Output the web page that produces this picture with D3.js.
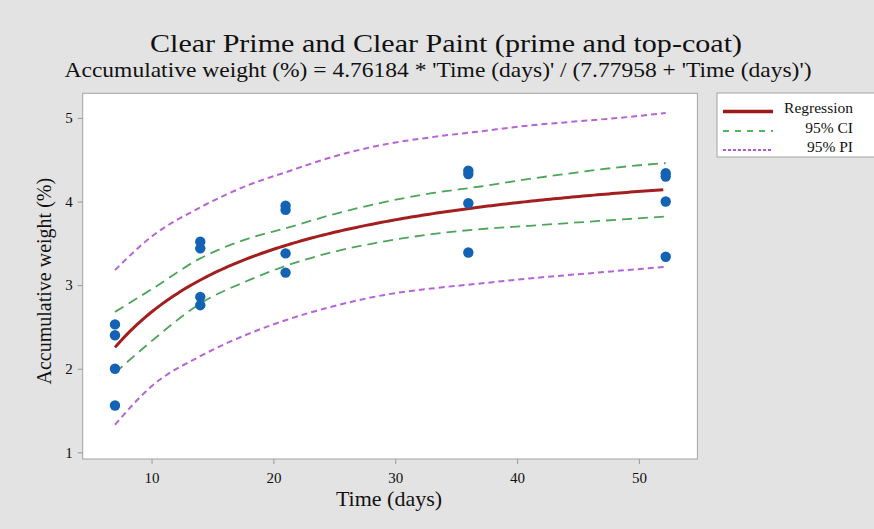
<!DOCTYPE html>
<html>
<head>
<meta charset="utf-8">
<script src="https://cdn.jsdelivr.net/npm/d3@7"></script>
<style>
  html, body { margin: 0; padding: 0; background: #e3e3e3; }
  svg { display: block; }
  text { font-family: "Liberation Serif", "DejaVu Serif", serif; fill: #111; }
</style>
</head>
<body>
<svg id="chart" width="874" height="529"></svg>
<script>
// Observed accumulative weight (%) per exposure time (days)
const obsTime   = [7, 7, 7, 7, 14, 14, 14, 14, 21, 21, 21, 21, 36, 36, 36, 36, 52.2, 52.2, 52.2, 52.2];
const obsWeight = [2.53, 2.40, 2.00, 1.56, 3.52, 3.44, 2.86, 2.76, 3.95, 3.90, 3.38, 3.15, 4.37, 4.33, 3.98, 3.39, 4.34, 4.30, 4.00, 3.34];

// Fitted model: weight = A * t / (B + t)
const coefA = 4.76184;
const coefB = 7.77958;

// Times at which the interval bands are evaluated
const bandTime = [7, 10, 14, 18, 21, 25, 29, 33, 37, 41, 45, 49, 52.2];
const ciUpper  = [2.68, 2.95, 3.32, 3.56, 3.68, 3.85, 3.99, 4.10, 4.18, 4.27, 4.35, 4.42, 4.46];
const ciLower  = [1.95, 2.33, 2.78, 3.06, 3.23, 3.40, 3.52, 3.61, 3.67, 3.71, 3.75, 3.79, 3.82];
const piUpper  = [3.18, 3.58, 3.93, 4.20, 4.35, 4.54, 4.68, 4.77, 4.84, 4.91, 4.96, 5.01, 5.06];
const piLower  = [1.33, 1.79, 2.15, 2.42, 2.58, 2.75, 2.88, 2.96, 3.02, 3.08, 3.13, 3.18, 3.22];

const xTicks = [10, 20, 30, 40, 50];
const yTicks = [1, 2, 3, 4, 5];

const titleText = "Clear Prime and Clear Paint (prime and top-coat)";
const subtitleText = "Accumulative weight (%) = 4.76184 * 'Time (days)' / (7.77958 + 'Time (days)')";
const xTitle = "Time (days)";
const yTitle = "Accumulative weight (%)";
const legendItems = [
  { label: "Regression", kind: "fit" },
  { label: "95% CI", kind: "ci" },
  { label: "95% PI", kind: "pi" }
];

const styles = {
  fit: { stroke: "#a31f1f", width: 3, dash: null },
  ci:  { stroke: "#4ea45a", width: 1.8, dash: "10,6" },
  pi:  { stroke: "#b664d6", width: 2, dash: "6,4" }
};
const legendStyles = {
  fit: { stroke: "#9c1a1a", width: 3.5, dash: null },
  ci:  { stroke: "#1a9a2a", width: 1.5, dash: "6,6" },
  pi:  { stroke: "#9c1fc8", width: 1.5, dash: "3,2" }
};

const svg = d3.select("#chart");
const plot = { left: 82.7, right: 697.4, top: 93.3, bottom: 459 };

const x = d3.scaleLinear().domain([4.35, 54.8]).range([plot.left, plot.right]);
const y = d3.scaleLinear().domain([0.92, 5.295]).range([plot.bottom, plot.top]);

// Titles
svg.append("text")
  .attr("x", 446).attr("y", 52)
  .attr("text-anchor", "middle")
  .attr("font-size", 26)
  .attr("textLength", 592).attr("lengthAdjust", "spacingAndGlyphs")
  .text(titleText);
svg.append("text")
  .attr("x", 438).attr("y", 77)
  .attr("text-anchor", "middle")
  .attr("font-size", 21)
  .attr("textLength", 747).attr("lengthAdjust", "spacingAndGlyphs")
  .text(subtitleText);

// Plot background
svg.append("rect")
  .attr("x", plot.left).attr("y", plot.top)
  .attr("width", plot.right - plot.left).attr("height", plot.bottom - plot.top)
  .attr("fill", "#ffffff").attr("stroke", "#a3a3a3").attr("stroke-width", 1);

// Axes
const xAxis = svg.append("g")
  .attr("transform", `translate(0,${plot.bottom})`)
  .call(d3.axisBottom(x).tickValues(xTicks).tickSize(5).tickPadding(8).tickFormat(d3.format("d")));
const yAxis = svg.append("g")
  .attr("transform", `translate(${plot.left},0)`)
  .call(d3.axisLeft(y).tickValues(yTicks).tickSize(5).tickPadding(5).tickFormat(d3.format("d")));
[xAxis, yAxis].forEach(g => {
  g.select(".domain").remove();
  g.selectAll(".tick line").attr("stroke", "#9a9a9a");
  g.selectAll(".tick text")
    .attr("font-family", "Liberation Serif, serif")
    .attr("font-size", 15).attr("fill", "#222");
});

svg.append("text")
  .attr("x", 389).attr("y", 506)
  .attr("text-anchor", "middle").attr("font-size", 22)
  .text(xTitle);
svg.append("text")
  .attr("transform", `translate(51,${(plot.top + plot.bottom) / 2 + 5}) rotate(-90)`)
  .attr("text-anchor", "middle").attr("font-size", 20)
  .text(yTitle);

// Bands and fitted curve
const bandLine = d3.line().curve(d3.curveMonotoneX);
const drawBand = (vals, st) => {
  svg.append("path")
    .attr("d", bandLine(bandTime.map((t, i) => [x(t), y(vals[i])])))
    .attr("fill", "none")
    .attr("stroke", st.stroke).attr("stroke-width", st.width)
    .attr("stroke-dasharray", st.dash);
};
drawBand(piUpper, styles.pi);
drawBand(piLower, styles.pi);
drawBand(ciUpper, styles.ci);
drawBand(ciLower, styles.ci);

const fitTimes = d3.range(7, 52.2 + 0.001, 0.3);
const fitLine = d3.line().curve(d3.curveLinear)
  .x(t => x(t)).y(t => y(coefA * t / (coefB + t)));
svg.append("path")
  .attr("d", fitLine(fitTimes))
  .attr("fill", "none")
  .attr("stroke", styles.fit.stroke).attr("stroke-width", styles.fit.width);

// Observations
svg.append("g").selectAll("circle")
  .data(obsTime.map((t, i) => ({ t, w: obsWeight[i] })))
  .join("circle")
  .attr("cx", d => x(d.t)).attr("cy", d => y(d.w))
  .attr("r", 5.2)
  .attr("fill", "#1462b4");

// Legend
const legend = svg.append("g");
legend.append("rect")
  .attr("x", 717).attr("y", 93).attr("width", 160).attr("height", 64)
  .attr("fill", "#ffffff").attr("stroke", "#a3a3a3");
const legendY = [111.5, 131, 150];
legendItems.forEach((item, i) => {
  const st = legendStyles[item.kind];
  legend.append("line")
    .attr("x1", 723).attr("x2", 773)
    .attr("y1", legendY[i]).attr("y2", legendY[i])
    .attr("stroke", st.stroke).attr("stroke-width", st.width)
    .attr("stroke-dasharray", st.dash);
  legend.append("text")
    .attr("x", 853).attr("y", legendY[i] + 1.5)
    .attr("text-anchor", "end").attr("font-size", 15.5)
    .text(item.label);
});
</script>
</body>
</html>
